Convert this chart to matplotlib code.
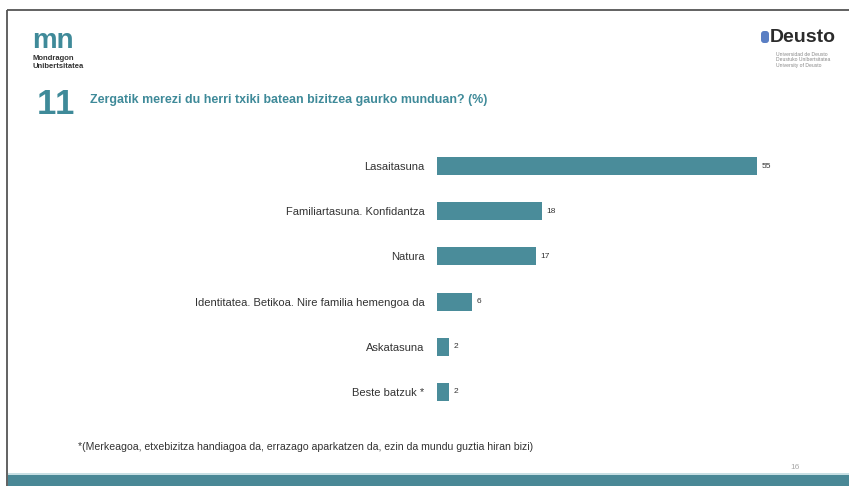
import matplotlib
matplotlib.use("Agg")
import matplotlib.pyplot as plt
from matplotlib.patches import Rectangle, FancyBboxPatch

categories = ["Lasaitasuna", "Familiartasuna. Konfidantza", "Natura",
              "Identitatea. Betikoa. Nire familia hemengoa da", "Askatasuna", "Beste batzuk *"]
values = [55, 18, 17, 6, 2, 2]
title_num = "11"
title = "Zergatik merezi du herri txiki batean bizitzea gaurko munduan? (%)"
footnote = "*(Merkeagoa, etxebizitza handiagoa da, errazago aparkatzen da, ezin da mundu guztia hiran bizi)"
page = "16"

W, H = 849, 486
fig = plt.figure(figsize=(W/100, H/100), dpi=100)
fig.patch.set_facecolor("white")
TEAL = "#4a8c9a"
FONT = "Liberation Sans"

# decoration axes in pixel coords
deco = fig.add_axes([0, 0, 1, 1])
deco.set_xlim(0, W)
deco.set_ylim(H, 0)
deco.axis("off")
deco.add_patch(Rectangle((7.5, 10), 860, 480, fill=False, edgecolor="#555555", lw=1.3))
deco.add_patch(Rectangle((8, 475), 860, 13, facecolor="#4a8896", edgecolor="none"))
deco.add_patch(Rectangle((8, 472.5), 860, 2.5, facecolor="#c8e0e4", edgecolor="none"))

# Mondragon logo
deco.text(32, 41, "mn", fontsize=20, fontweight="bold", color="#3f8a99", family=FONT,
          ha="left", va="center")
deco.text(33, 59, "Mondragon", fontsize=5.5, fontweight="bold", color="#333333", family=FONT, va="center")
deco.text(33, 67, "Unibertsitatea", fontsize=5.5, fontweight="bold", color="#333333", family=FONT, va="center")

# Deusto logo
deco.add_patch(FancyBboxPatch((761, 31), 8, 12, boxstyle="round,pad=0,rounding_size=3",
                              facecolor="#5a7fc4", edgecolor="none"))
deco.text(770, 38, "Deusto", fontsize=14, fontweight="bold", color="#2b2b2b", family=FONT, va="center")
for i, t in enumerate(["Universidad de Deusto", "Deustuko Unibertsitatea", "University of Deusto"]):
    deco.text(776, 54 + i*5.5, t, fontsize=3.6, color="#888888", family=FONT, va="center")

# title
deco.text(37, 104, "1", fontsize=25, fontweight="bold", color="#3f8a99", family=FONT, va="center")
deco.text(55, 104, "1", fontsize=25, fontweight="bold", color="#3f8a99", family=FONT, va="center")
deco.text(90, 100, title, fontsize=8.9, fontweight="bold", color="#3f8a99", family=FONT, va="center")

# footnote and page
deco.text(78, 447, footnote, fontsize=7.6, color="#333333", family=FONT, va="center")
deco.text(790, 467, page, fontsize=6, color="#aaaaaa", family=FONT, va="center")

# bar chart axes
left_px, right_px = 437, 757
top_px, bot_px = 143.5, 414.5
ax = fig.add_axes([left_px/W, 1 - bot_px/H, (right_px-left_px)/W, (bot_px-top_px)/H])
ax.set_facecolor("none")
y = list(range(len(categories)))
ax.barh(y, values, height=0.4, color=TEAL)
ax.set_xlim(0, 55)
ax.set_ylim(len(categories)-0.5, -0.5)
ax.set_yticks(y)
ax.set_yticklabels(categories, fontsize=8, color="#333333", family=FONT)
ax.tick_params(axis="y", length=0, pad=9)
ax.set_xticks([])
for s in ax.spines.values():
    s.set_visible(False)
for yi, v in zip(y, values):
    ax.text(v + 0.8, yi, str(v), fontsize=6, color="#333333", family=FONT, va="center", ha="left")

fig.savefig("out.png", dpi=100)
